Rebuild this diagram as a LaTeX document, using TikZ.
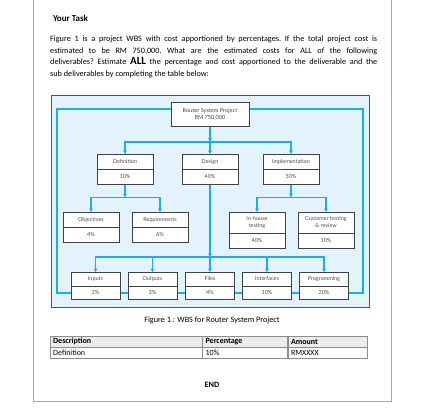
\documentclass[tikz,border=0pt]{standalone}
\usepackage{fontspec}
\setmainfont{Carlito}
\newfontfamily\wbsfont{Lato}
\usetikzlibrary{arrows.meta, calc, shapes.multipart}
\definecolor{cWbsLine}{RGB}{25,175,230}
\definecolor{cWbsBack}{RGB}{226,243,251}
\definecolor{cFrame}{RGB}{85,85,85}
\tikzset{
	wbsbox/.style  ={rectangle split, rectangle split parts=2, draw=black!75, line width=0.9pt, fill=white, anchor=north, align=center, inner xsep=2pt, inner ysep=4pt, minimum width=56pt, font=\wbsfont\fontsize{5.5}{6.3}\selectfont, text=black!70},
	leafbox/.style ={wbsbox, minimum width=49pt, inner ysep=3.2pt},
	rootbox/.style ={rectangle, draw=black!75, line width=0.9pt, fill=white, anchor=north, align=center, minimum width=78pt, minimum height=24pt, font=\wbsfont\fontsize{5.6}{7}\selectfont, text=black!75},
	wbsline/.style ={color=cWbsLine, line width=1.4pt},
	wbsarrow/.style={wbsline, -{Triangle[length=3.4pt, width=3.6pt]}},
	% answer table
	cell/.style    ={draw=black!45, anchor=north west, inner xsep=3pt, inner ysep=0pt, minimum height=11pt, align=left, font=\fontsize{8}{9}\selectfont},
}

\begin{document}
\begin{tikzpicture}[x=1pt, y=-1pt]
	\useasboundingbox (0,0) rectangle (422,411);
	% page frame
	\draw[black!35, line width=0.8pt] (33,0) -- (33,401) -- (391,401) -- (391,0);
	\node[anchor=west, font=\bfseries\fontsize{9}{11}\selectfont] (title) at (49.5,18) {Your Task};
	\node[anchor=north west, inner sep=0pt, text width=327pt, align=justify, font=\fontsize{8.2}{11.5}\selectfont\frenchspacing] (task) at (50,36)
		{Figure 1 is a project WBS with cost apportioned by percentages. If the total project cost is\linebreak
		estimated to be RM 750,000. What are the estimated costs for ALL of the following\linebreak
		deliverables? Estimate {\fontsize{11}{11}\selectfont\bfseries ALL} the percentage and cost apportioned to the deliverable and the\linebreak
		sub deliverables by completing the table below:};

	% figure
	\draw[cFrame, line width=1pt, fill=cWbsBack] (51,96) rectangle (369,307);
	\draw[wbsline] (57,109) rectangle (363,293);

	\node[rootbox] (root) at (210,102) {Router System Project\\RM 750,000};

	\node[wbsbox] (def) at (125,154) {Definition\strut\nodepart{two}10\%\strut};
	\node[wbsbox] (des) at (210,154) {Design\strut\nodepart{two}40\%\strut};
	\node[wbsbox] (imp) at (291,154) {Implementation\strut\nodepart{two}50\%\strut};

	\node[wbsbox] (obj) at (91,212)  {Objectives\strut\nodepart{two}4\%\strut};
	\node[wbsbox] (req) at (160,212) {Requirements\strut\nodepart{two}6\%\strut};
	\node[wbsbox] (inh) at (257,212) {In-house\\testing\strut\nodepart{two}40\%\strut};
	\node[wbsbox] (cus) at (326,212) {Customer testing\\\& review\strut\nodepart{two}10\%\strut};

	\node[leafbox] (inp) at (95.5,272) {Inputs\strut\nodepart{two}3\%\strut};
	\node[leafbox] (out) at (152.5,272) {Outputs\strut\nodepart{two}3\%\strut};
	\node[leafbox] (fil) at (210,272) {Files\strut\nodepart{two}4\%\strut};
	\node[leafbox] (itf) at (267,272) {Interfaces\strut\nodepart{two}10\%\strut};
	\node[leafbox] (prg) at (324,272) {Programming\strut\nodepart{two}20\%\strut};

	% connectors
	\coordinate (rootbus) at ($(root.south)+(0,15)$);
	\draw[wbsarrow] (root.south) -- (rootbus);
	\foreach \n in {def,des,imp} \draw[wbsarrow] (rootbus) -| (\n.north);

	\coordinate (defbus) at ($(def.south)+(0,12)$);
	\draw[wbsarrow] (def.south) -- (defbus);
	\foreach \n in {obj,req} \draw[wbsarrow] (defbus) -| (\n.north);

	\coordinate (impbus) at ($(imp.south)+(0,12)$);
	\draw[wbsarrow] (imp.south) -- (impbus);
	\foreach \n in {inh,cus} \draw[wbsarrow] (impbus) -| (\n.north);

	\coordinate (desbus) at ($(fil.north)+(0,-15)$);
	\draw[wbsarrow] (des.south) -- (desbus);
	\foreach \n in {inp,out,fil,itf,prg} \draw[wbsarrow] (desbus) -| (\n.north);

	\node[font=\fontsize{8.2}{10}\selectfont] (caption) at (212,320) {Figure 1 : WBS for Router System Project};

	% answer table
	\node[cell, fill=black!8, text width=146pt, font=\bfseries\fontsize{8}{9}\selectfont] (hdesc) at (50,336) {Description};
	\node[cell, fill=black!8, text width=79pt, font=\bfseries\fontsize{8}{9}\selectfont] (hpct) at (hdesc.north east) {Percentage};
	\node[cell, fill=black!8, text width=73pt, font=\bfseries\fontsize{8}{9}\selectfont] (hamt) at (hpct.north east) {Amount};
	\node[cell, text width=146pt] (rdesc) at (hdesc.south west) {Definition};
	\node[cell, text width=79pt] (rpct) at (rdesc.north east) {10\%};
	\node[cell, text width=73pt] (ramt) at (rpct.north east) {RMXXXX};

	\node[font=\bfseries\fontsize{8.2}{10}\selectfont] (end) at (212,385) {END};
\end{tikzpicture}
\end{document}
